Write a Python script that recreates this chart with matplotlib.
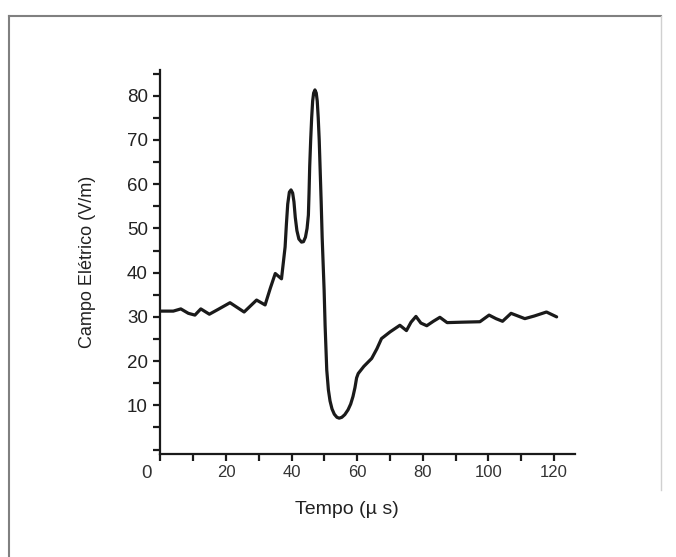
import matplotlib
matplotlib.use("Agg")
import matplotlib.pyplot as plt
from matplotlib.lines import Line2D
from matplotlib.ticker import MultipleLocator

plt.rcParams['font.family'] = ['Liberation Sans', 'DejaVu Sans']

# valores
tempo = [0.0, 3.9, 6.2, 8.5, 10.5, 12.3, 14.9, 17.6, 21.2, 25.5, 29.3, 31.9,
         33.5, 35.0, 36.9, 38.0, 38.4, 38.8, 39.3, 39.8, 40.3, 40.7, 41.1, 41.6,
         42.2, 43.0, 43.6, 44.2, 44.7, 45.1, 45.3, 45.5, 45.8, 46.1, 46.4, 46.7,
         47.1, 47.5, 47.8, 48.1, 48.4, 48.7, 49.0, 49.3, 49.6, 49.9, 50.2, 50.7,
         51.2, 51.7, 52.3, 53.0, 53.8, 54.5, 55.3, 56.2, 57.2, 58.0, 58.7, 59.3,
         59.8, 60.3, 62.0, 64.4, 66.0, 67.4, 68.1, 70.0, 73.0, 75.0, 76.4, 77.9,
         79.4, 81.2, 83.2, 85.2, 87.4, 92.0, 97.4, 100.2, 102.3, 104.3, 106.9,
         109.0, 111.1, 114.0, 117.7, 120.8]
campo = [31.3, 31.3, 31.8, 30.8, 30.4, 31.8, 30.6, 31.7, 33.2, 31.1, 33.8, 32.7,
         36.5, 39.8, 38.6, 45.8, 51.0, 55.5, 58.2, 58.7, 58.0, 56.0, 52.5, 49.5,
         47.6, 46.9, 47.0, 48.0, 50.0, 53.0, 58.0, 64.0, 70.0, 75.0, 78.8, 80.6,
         81.3, 80.6, 78.8, 75.0, 70.0, 63.0, 56.0, 48.0, 42.0, 36.0, 28.0, 18.0,
         13.5, 11.0, 9.2, 8.0, 7.3, 7.1, 7.3, 7.9, 9.0, 10.3, 12.0, 14.0,
         16.2, 17.2, 18.8, 20.6, 22.8, 25.1, 25.5, 26.6, 28.1, 26.9, 28.8, 30.1,
         28.6, 28.0, 29.0, 29.9, 28.7, 28.8, 28.9, 30.4, 29.6, 29.0, 30.8,
         30.2, 29.6, 30.2, 31.1, 30.0]

xticks = [20, 40, 60, 80, 100, 120]
yticks = [10, 20, 30, 40, 50, 60, 70, 80]

fig = plt.figure(figsize=(6.76, 5.57), dpi=100)
ax = fig.add_axes([0.2374, 0.1849, 0.6132, 0.6894])

cor = '#1a1a1a'
ax.plot(tempo, campo, color=cor, lw=2.3, solid_joinstyle='round',
        solid_capstyle='round')

ax.set_xlim(0, 126.4)
ax.set_ylim(-1.0, 85.8)

ax.spines['top'].set_visible(False)
ax.spines['right'].set_visible(False)
for s in ['left', 'bottom']:
    ax.spines[s].set_linewidth(1.6)
    ax.spines[s].set_color(cor)

ax.set_xticks(xticks)
ax.set_xticklabels([str(v) for v in xticks])
ax.xaxis.set_minor_locator(MultipleLocator(10))
ax.set_yticks(yticks)
ax.set_yticklabels([str(v) for v in yticks])
ax.yaxis.set_minor_locator(MultipleLocator(5))

ax.tick_params(axis='x', which='both', direction='out', length=5, width=1.6,
               color=cor, labelsize=12, pad=3, labelcolor='#333333')
ax.tick_params(axis='y', which='both', direction='out', length=5, width=1.6,
               color=cor, labelsize=13.5, pad=4, labelcolor='#222222')

ax.annotate('0', xy=(0, 0), xycoords='axes fraction', xytext=(-10, -14),
            textcoords='offset points', ha='center', va='center',
            fontsize=13.5, color='#333333')

ax.set_ylabel('Campo Elétrico (V/m)', fontsize=13, color='#222222', labelpad=22)
fig.text(0.513, 0.086, 'Tempo (µ s)', ha='center', va='center', fontsize=14,
         color='#222222')

# moldura cinza da imagem original
fig.add_artist(Line2D([9 / 676, 661 / 676], [1 - 16 / 557, 1 - 16 / 557],
                      transform=fig.transFigure, color='#808080', lw=1.5))
fig.add_artist(Line2D([9 / 676, 9 / 676], [0, 1 - 16 / 557],
                      transform=fig.transFigure, color='#808080', lw=1.5))
fig.add_artist(Line2D([661 / 676, 661 / 676], [1 - 490 / 557, 1 - 16 / 557],
                      transform=fig.transFigure, color='#d0d0d0', lw=1.0))

fig.savefig('out.png', dpi=100)
